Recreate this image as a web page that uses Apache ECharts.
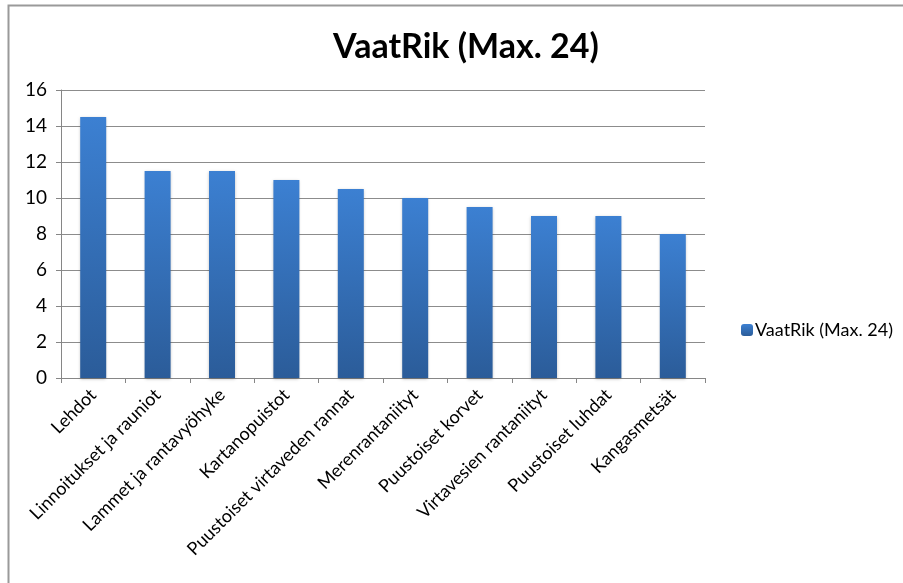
<!DOCTYPE html>
<html>
<head>
<meta charset="utf-8">
<script src="https://cdn.jsdelivr.net/npm/echarts@6/dist/echarts.min.js"></script>
<style>
  html, body { margin: 0; padding: 0; background: #fff; }
  #myChart { width: 903px; height: 583px; }
</style>
</head>
<body>
<div id="myChart"></div>
<script>
// data
var categories = ['Lehdot', 'Linnoitukset ja rauniot', 'Lammet ja rantavyöhyke', 'Kartanopuistot',
  'Puustoiset virtaveden rannat', 'Merenrantaniityt', 'Puustoiset korvet', 'Virtavesien rantaniityt',
  'Puustoiset luhdat', 'Kangasmetsät'];
var vaatrik = [14.5, 11.5, 11.5, 11, 10.5, 10, 9.5, 9, 9, 8];
var seriesName = 'VaatRik (Max. 24)';

var myChart = echarts.init(document.getElementById('myChart'));

var options = {
  animation: false,
  title: {
    text: seriesName,
    left: 461,
    top: 25,
    textAlign: 'center',
    textStyle: { fontFamily: 'Lato', fontWeight: 'bold', fontSize: 34, color: '#000' }
  },
  legend: {
    data: [seriesName],
    orient: 'vertical',
    left: 736,
    top: 316,
    itemWidth: 12,
    itemHeight: 12,
    itemGap: 4,
    textStyle: { fontFamily: 'Lato', fontSize: 18, color: '#000', padding: [0, 0, 0, -3] }
  },
  graphic: [{
    type: 'rect',
    shape: { x: 8.5, y: 5.5, width: 1000, height: 1000 },
    style: { fill: 'none', stroke: '#9a9a9a', lineWidth: 2 },
    silent: true
  }],
  grid: { left: 61, top: 90, width: 644, height: 288, containLabel: false },
  xAxis: {
    type: 'category',
    data: categories,
    axisLine: { lineStyle: { color: '#868686', width: 1 } },
    axisTick: { show: true, alignWithLabel: false, length: 5, lineStyle: { color: '#868686' } },
    axisLabel: { rotate: 45, interval: 0, margin: 14, fontFamily: 'Lato', fontSize: 18, color: '#000' }
  },
  yAxis: {
    type: 'value',
    min: 0,
    max: 16,
    interval: 2,
    axisLine: { show: true, lineStyle: { color: '#868686', width: 1 } },
    axisTick: { show: true, length: 5, lineStyle: { color: '#868686' } },
    axisLabel: { margin: 14, fontFamily: 'Lato', fontSize: 19, color: '#000' },
    splitLine: { lineStyle: { color: '#8c8c8c', width: 1 } }
  },
  series: [{
    name: seriesName,
    type: 'bar',
    data: vaatrik,
    barWidth: 26,
    itemStyle: {
      color: new echarts.graphic.LinearGradient(0, 0, 0, 1, [
        { offset: 0, color: '#3c80d2' },
        { offset: 1, color: '#2b5c99' }
      ]),
      shadowBlur: 3,
      shadowColor: 'rgba(0,0,0,0.25)',
      shadowOffsetY: 1
    }
  }]
};

myChart.setOption(options);
</script>
</body>
</html>
